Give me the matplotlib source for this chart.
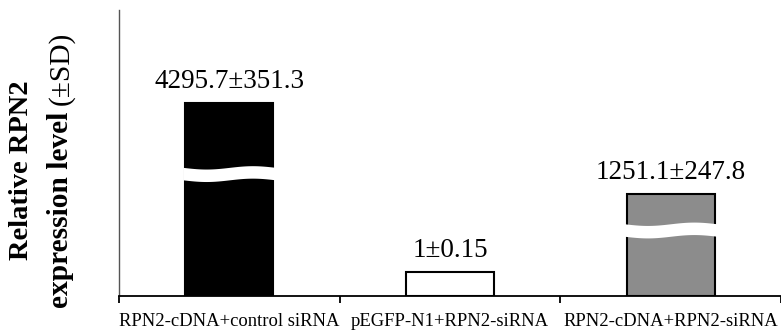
import numpy as np
import matplotlib
matplotlib.use("Agg")
import matplotlib.pyplot as plt

categories = ["RPN2-cDNA+control siRNA", "pEGFP-N1+RPN2-siRNA", "RPN2-cDNA+RPN2-siRNA"]
value_labels = ["4295.7\u00b1351.3", "1\u00b10.15", "1251.1\u00b1247.8"]
# Drawn (axis-broken) bar heights in arbitrary units
drawn_heights = [8.05, 1.0, 4.25]
# Height (same units) of the centre of the white break band on each bar (None = no break)
break_centres = [5.1, None, 2.75]
fill_colors = ["#000000", "#ffffff", "#8c8c8c"]

serif = ["Liberation Serif", "DejaVu Serif"]

fig = plt.figure(figsize=(7.81, 3.31), dpi=100)
ax = fig.add_axes([119 / 781, 1 - 296 / 331, 1 - 119 / 781, 286 / 331])

x = np.arange(len(categories))
bw = 0.4
ax.bar(x, drawn_heights, width=bw, color=fill_colors, edgecolor="black", linewidth=1.5, zorder=2)

for xi, h, lab in zip(x, drawn_heights, value_labels):
    ax.text(xi, h + 0.38, lab, ha="center", va="bottom", fontsize=19.5, family=serif, zorder=5)

# break bands
for xi, bc in zip(x, break_centres):
    if bc is None:
        continue
    xs = np.linspace(xi - bw / 2 - 0.01, xi + bw / 2 + 0.01, 200)
    t = (xs - xs[0]) / (xs[-1] - xs[0])
    wave = -0.07 * np.sin(2 * np.pi * t)
    half = 0.26
    ax.fill_between(xs, bc + wave - half, bc + wave + half, color="white", lw=0, zorder=4)

ax.set_xlim(-0.5, len(categories) - 0.5)
ax.set_ylim(0, 286 / 24)

for s in ["top", "right"]:
    ax.spines[s].set_visible(False)
ax.spines["left"].set_color("#555555")
ax.spines["left"].set_linewidth(1.0)
ax.spines["bottom"].set_color("black")
ax.spines["bottom"].set_linewidth(1.3)

ax.set_yticks([])
ax.set_xticks(x)
ax.set_xticklabels(categories, fontsize=13.4, family=serif)
ax.tick_params(axis="x", which="major", length=0, pad=12)
ax.set_xticks(np.arange(-0.5, len(categories), 1.0), minor=True)
ax.tick_params(axis="x", which="minor", length=5, width=1.3, color="black")

# y label: two lines, bold with regular "(±SD)"
fig.text(22 / 781, 1 - 170 / 331, "Relative RPN2", rotation=90, ha="center", va="center",
         fontsize=20.5, fontweight="bold", family=serif)
fig.canvas.draw()
renderer = fig.canvas.get_renderer()
t_bold = fig.text(61 / 781, 0, "expression level ", rotation=90, ha="center", va="bottom",
                  fontsize=21.2, fontweight="bold", family=serif)
t_reg = fig.text(61 / 781, 0, "(\u00b1SD)", rotation=90, ha="center", va="bottom",
                 fontsize=21.2, family=serif)
eb = t_bold.get_window_extent(renderer)
er = t_reg.get_window_extent(renderer)
total = eb.height + er.height
centre_px = 331 - 170
start = centre_px - total / 2
t_bold.set_position((61 / 781, start / 331))
t_reg.set_position((61 / 781, (start + eb.height) / 331))

fig.savefig("out.png", dpi=100)
